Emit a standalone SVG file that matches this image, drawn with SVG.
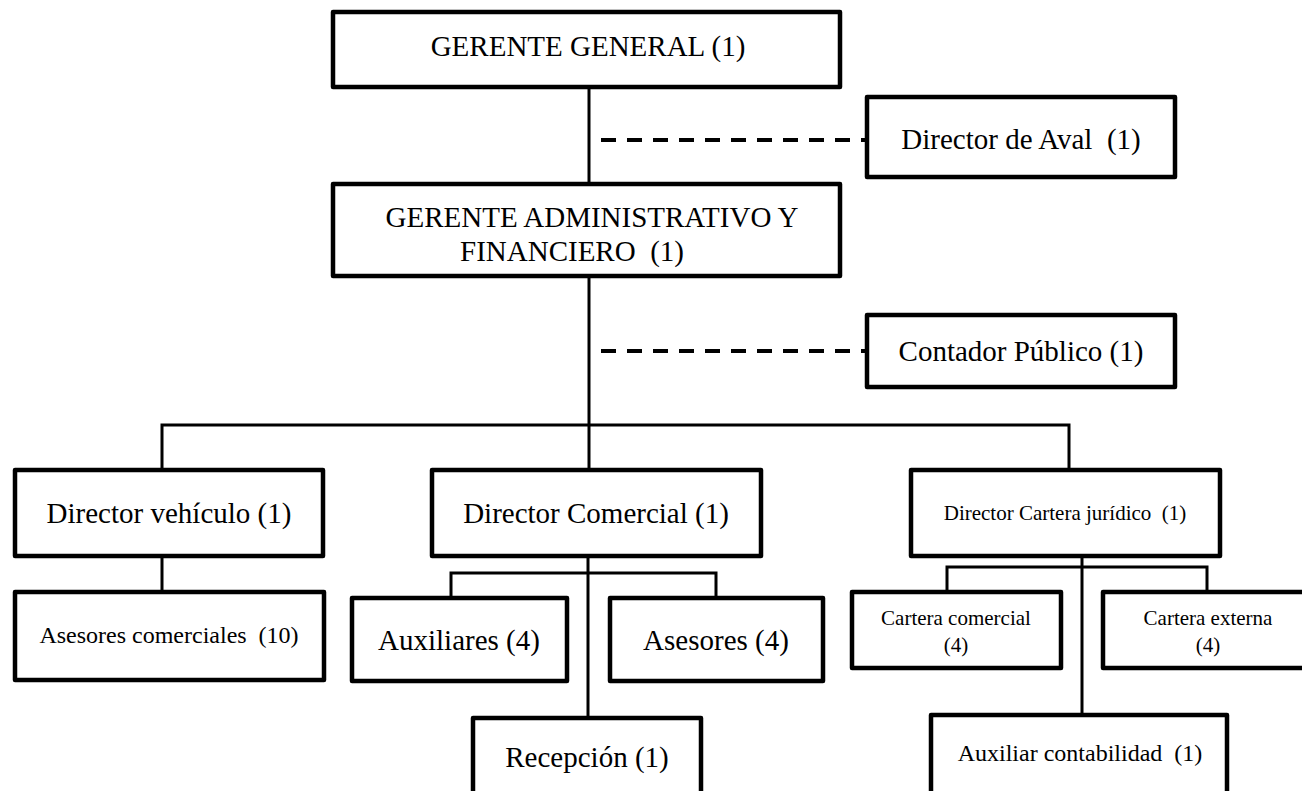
<svg xmlns="http://www.w3.org/2000/svg" width="1302" height="791" viewBox="0 0 1302 791">
<style>
.box{fill:#fff;stroke:#000;stroke-width:4.5;stroke-linejoin:round}
.ln{stroke:#000;stroke-width:3;fill:none}
.dash{stroke:#000;stroke-width:4;stroke-dasharray:15 11;fill:none}
text{font-family:"Liberation Serif","Times New Roman",serif;fill:#000;text-anchor:middle}
.f29{font-size:29px}
.f24{font-size:24px}
.f21{font-size:21px}
</style>
<rect width="1302" height="791" fill="#fff"/>
<g id="connectors">
<line class="ln" x1="589" y1="87" x2="589" y2="184"/>
<line class="dash" x1="601" y1="140" x2="867" y2="140"/>
<line class="ln" x1="589" y1="277" x2="589" y2="470"/>
<line class="dash" x1="601" y1="351" x2="867" y2="351"/>
<polyline class="ln" points="162,470 162,425 1069,425 1069,470"/>
<line class="ln" x1="162" y1="556" x2="162" y2="592"/>
<line class="ln" x1="588" y1="556" x2="588" y2="718"/>
<polyline class="ln" points="451,598 451,573 716,573 716,598"/>
<line class="ln" x1="1082" y1="556" x2="1082" y2="715"/>
<polyline class="ln" points="947,592 947,567 1207,567 1207,592"/>
</g>
<g id="gerente-general">
<rect class="box" x="333" y="12" width="507" height="75"/>
<text class="f29" x="588" y="56">GERENTE GENERAL (1)</text>
</g>
<g id="director-aval">
<rect class="box" x="867" y="97" width="308" height="80"/>
<text class="f29" x="1021" y="149" xml:space="preserve">Director de Aval  (1)</text>
</g>
<g id="gerente-administrativo">
<rect class="box" x="333" y="184" width="507" height="92"/>
<text class="f29" x="592" y="227">GERENTE ADMINISTRATIVO Y</text>
<text class="f29" x="572" y="261" xml:space="preserve">FINANCIERO  (1)</text>
</g>
<g id="contador">
<rect class="box" x="867" y="315" width="308" height="72"/>
<text class="f29" x="1021" y="361">Contador Público (1)</text>
</g>
<g id="director-vehiculo">
<rect class="box" x="15" y="470" width="308" height="86"/>
<text class="f29" x="169" y="523">Director vehículo (1)</text>
</g>
<g id="director-comercial">
<rect class="box" x="432" y="470" width="329" height="86"/>
<text class="f29" x="596" y="523">Director Comercial (1)</text>
</g>
<g id="director-cartera">
<rect class="box" x="911" y="470" width="309" height="86"/>
<text class="f21" x="1065" y="520" xml:space="preserve">Director Cartera jurídico  (1)</text>
</g>
<g id="asesores-comerciales">
<rect class="box" x="15" y="592" width="309" height="88"/>
<text class="f24" x="169" y="643" xml:space="preserve">Asesores comerciales  (10)</text>
</g>
<g id="auxiliares">
<rect class="box" x="352" y="598" width="215" height="83"/>
<text class="f29" x="459" y="650">Auxiliares (4)</text>
</g>
<g id="asesores">
<rect class="box" x="610" y="598" width="213" height="83"/>
<text class="f29" x="716" y="650">Asesores (4)</text>
</g>
<g id="recepcion">
<rect class="box" x="473" y="718" width="228" height="90"/>
<text class="f29" x="587" y="767">Recepción (1)</text>
</g>
<g id="cartera-comercial">
<rect class="box" x="852" y="592" width="209" height="76"/>
<text class="f21" x="956" y="625">Cartera comercial</text>
<text class="f21" x="956" y="652">(4)</text>
</g>
<g id="cartera-externa">
<rect class="box" x="1103" y="592" width="212" height="76"/>
<text class="f21" x="1208" y="625">Cartera externa</text>
<text class="f21" x="1208" y="652">(4)</text>
</g>
<g id="auxiliar-contabilidad">
<rect class="box" x="931" y="715" width="296" height="90"/>
<text class="f24" x="1080" y="761" xml:space="preserve">Auxiliar contabilidad  (1)</text>
</g>
</svg>
